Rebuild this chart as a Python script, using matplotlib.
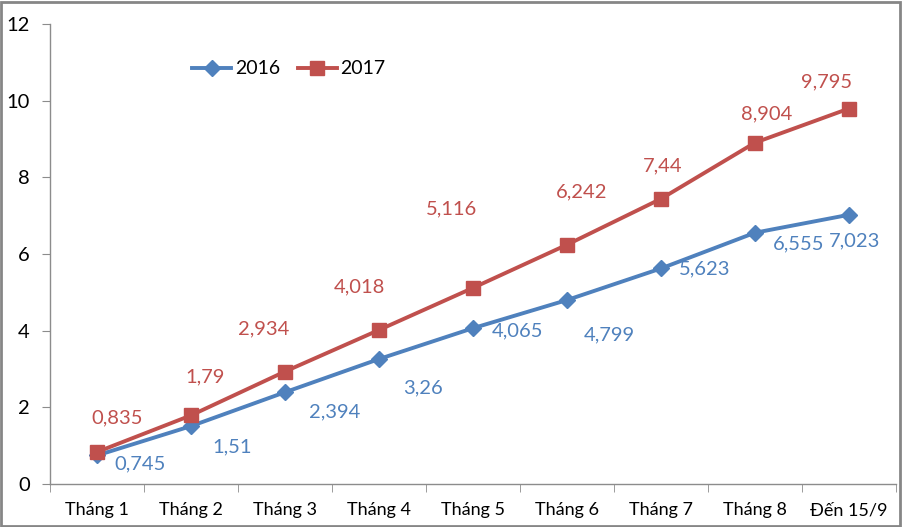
import matplotlib
matplotlib.use("Agg")
import matplotlib.pyplot as plt
from matplotlib.patches import Rectangle

# ---- data ---------------------------------------------------------------------
categories = ["Tháng 1", "Tháng 2", "Tháng 3", "Tháng 4", "Tháng 5",
              "Tháng 6", "Tháng 7", "Tháng 8", "Đến 15/9"]
values_2016 = [0.745, 1.51, 2.394, 3.26, 4.065, 4.799, 5.623, 6.555, 7.023]
values_2017 = [0.835, 1.79, 2.934, 4.018, 5.116, 6.242, 7.44, 8.904, 9.795]
labels_2016 = ["0,745", "1,51", "2,394", "3,26", "4,065", "4,799", "5,623", "6,555", "7,023"]
labels_2017 = ["0,835", "1,79", "2,934", "4,018", "5,116", "6,242", "7,44", "8,904", "9,795"]
y_ticks = [0, 2, 4, 6, 8, 10, 12]

# label offsets (pixels) as placed by hand in the original
off_2016 = [(43, -8), (41, -21), (50, -20), (44, -29), (45, -3), (42, -35), (44, 0), (44, -11), (6, -26)]
off_2017 = [(20, 34), (14, 39), (-21, 43), (-20, 43), (-21, 79), (15, 53), (2, 33), (12, 29), (-22, 27)]

BLUE = "#4F81BD"
RED = "#C0504D"
AXIS = "#8C8C8C"

plt.rcParams["font.family"] = ["Lato", "DejaVu Sans"]

fig = plt.figure(figsize=(9.02, 5.27), dpi=100)
ax = fig.add_axes([50 / 902, 1 - 484 / 527, 846 / 902, 460 / 527])

x = list(range(len(categories)))
ax.plot(x, values_2016, color=BLUE, lw=2.8, marker="D", ms=8.5, label="2016", zorder=3)
ax.plot(x, values_2017, color=RED, lw=2.8, marker="s", ms=10, label="2017", zorder=4)

for xi, v, t, o in zip(x, values_2016, labels_2016, off_2016):
    ax.annotate(t, (xi, v), xytext=o, textcoords="offset pixels", ha="center", va="center",
                color=BLUE, fontsize=14.5)
for xi, v, t, o in zip(x, values_2017, labels_2017, off_2017):
    ax.annotate(t, (xi, v), xytext=o, textcoords="offset pixels", ha="center", va="center",
                color=RED, fontsize=14.5)

ax.set_xlim(-0.5, len(categories) - 0.5)
ax.set_ylim(0, 12)
ax.set_yticks(y_ticks)
ax.set_yticklabels([str(t) for t in y_ticks], fontsize=14.5)
ax.set_xticks(x)
ax.set_xticklabels(categories, fontsize=13)
ax.set_xticks([i - 0.5 for i in range(len(categories) + 1)], minor=True)
ax.tick_params(axis="x", which="major", length=0, pad=13)
ax.tick_params(axis="x", which="minor", length=6, color=AXIS, direction="out")
ax.tick_params(axis="y", length=6, color=AXIS, direction="out", pad=8.5)

for s in ("top", "right"):
    ax.spines[s].set_visible(False)
for s in ("left", "bottom"):
    ax.spines[s].set_color(AXIS)
    ax.spines[s].set_linewidth(1)

ax.legend(loc="center", bbox_to_anchor=(289 / 902, 1 - 69 / 527), bbox_transform=fig.transFigure,
          ncol=2, frameon=False, fontsize=14, handlelength=2.0, columnspacing=0.9, handletextpad=0.2)

fig.patches.append(Rectangle((0.001, 0.001), 0.997, 0.996, transform=fig.transFigure,
                             fill=False, edgecolor="#868686", lw=2))

fig.savefig("out.png", dpi=100)
